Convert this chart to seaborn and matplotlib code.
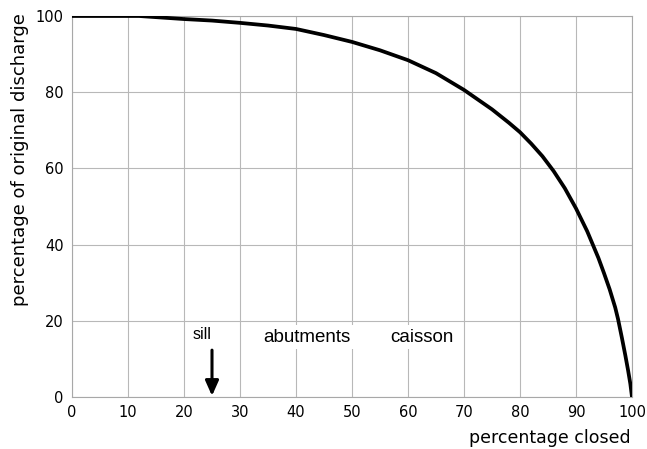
import matplotlib
matplotlib.use("Agg")
import matplotlib.pyplot as plt
import seaborn as sns
import pandas as pd

pct_closed = [0, 5, 10, 12, 15, 20, 25, 30, 35, 40, 45, 50, 55, 60, 65, 70, 75,
              78, 80, 82, 84, 86, 88, 90, 92, 94, 95, 96, 97, 97.5, 98.2, 98.8,
              99.3, 99.7, 100]
pct_discharge = [100, 100, 100, 100, 99.7, 99.2, 98.8, 98.2, 97.5, 96.6, 95.0, 93.2,
                 91.0, 88.4, 85.0, 80.6, 75.5, 72.0, 69.5, 66.5, 63.2, 59.3, 54.8,
                 49.5, 43.5, 36.5, 32.5, 28.3, 23.5, 20.5, 15.5, 11.0, 7.0, 3.5, 0]
x_ticks = [0, 10, 20, 30, 40, 50, 60, 70, 80, 90, 100]
y_ticks = [0, 20, 40, 60, 80, 100]
labels = {"sill": (23.2, 16.3), "abutments": (42, 15.7), "caisson": (62.5, 15.7)}
arrow_x = 25

df = pd.DataFrame({"closed": pct_closed, "discharge": pct_discharge})

sns.set_style("white")
plt.rcParams["font.family"] = ["DejaVu Sans"]
plt.rcParams["text.color"] = "black"
plt.rcParams["xtick.color"] = "#808080"
plt.rcParams["ytick.color"] = "#808080"
plt.rcParams["xtick.labelcolor"] = "black"
plt.rcParams["ytick.labelcolor"] = "black"

fig = plt.figure(figsize=(6.47, 4.49), dpi=100)
ax = fig.add_axes([72/647, 52/449, 560/647, 381/449])

sns.lineplot(data=df, x="closed", y="discharge", ax=ax, color="black",
             linewidth=2.7, zorder=3)

ax.set_xlim(0, 100)
ax.set_ylim(0, 100)
ax.set_xticks(x_ticks)
ax.set_yticks(y_ticks)
ax.grid(True, color="#b8b8b8", linewidth=0.8)
ax.set_axisbelow(True)
for s in ax.spines.values():
    s.set_color("#a8a8a8")
    s.set_linewidth(0.8)
ax.tick_params(axis="both", length=4, width=0.8, labelsize=10.5, pad=2)
ax.set_xlabel("")
ax.set_ylabel("")

fig.text(20/647, 1 - 160/449, "percentage of original discharge", rotation=90,
         ha="center", va="center", fontsize=13)
fig.text(631/647, 1 - 438/449, "percentage closed", ha="right", va="center",
         fontsize=12.5)

ax.text(labels["sill"][0], labels["sill"][1], "sill", ha="center", va="center",
        fontsize=11.5, family="Liberation Sans", zorder=4)
for name in ["abutments", "caisson"]:
    ax.text(labels[name][0], labels[name][1], name, ha="center", va="center",
            fontsize=13.5, family="Liberation Sans", zorder=4,
            bbox=dict(facecolor="white", edgecolor="none", pad=2.5))

ax.annotate("", xy=(arrow_x, 0.3), xytext=(arrow_x, 12.3),
            arrowprops=dict(arrowstyle="-|>,head_length=0.9,head_width=0.4",
                            color="black", lw=2.2, shrinkA=0, shrinkB=0),
            zorder=4)

fig.savefig("out.png", dpi=100, facecolor="white")
